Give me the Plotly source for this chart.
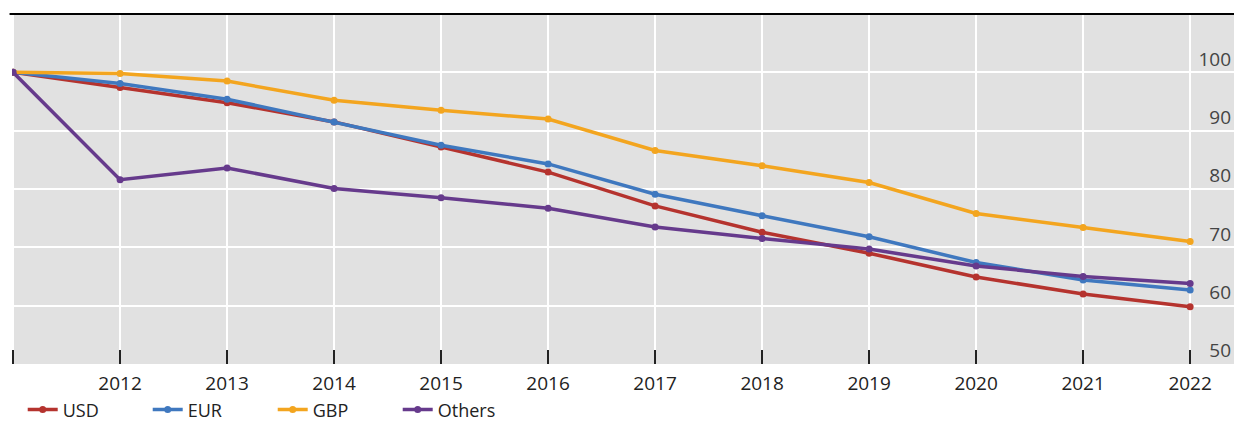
import plotly.graph_objects as go

years = list(range(2011, 2023))
usd = [100, 97.4, 94.8, 91.5, 87.2, 82.9, 77.1, 72.6, 69.0, 64.9, 62.0, 59.8]
eur = [100, 98.1, 95.4, 91.5, 87.5, 84.3, 79.1, 75.4, 71.8, 67.4, 64.4, 62.7]
gbp = [100, 99.8, 98.5, 95.2, 93.5, 92.0, 86.6, 84.0, 81.1, 75.8, 73.4, 71.0]
others = [100, 81.6, 83.6, 80.1, 78.5, 76.7, 73.5, 71.5, 69.7, 66.8, 65.0, 63.8]

names = ['USD', 'EUR', 'GBP', 'Others']
cores = ['#b5332e', '#3f78bf', '#f3a51f', '#663a8c']
x_labels = [''] + [str(a) for a in years[1:]]
y_ticks = [50, 60, 70, 80, 90, 100]

fig = go.Figure()
for nome, serie, cor in zip(names, [usd, eur, gbp, others], cores):
    fig.add_trace(go.Scatter(x=years, y=serie, name=nome, mode='lines+markers',
                             line=dict(color=cor, width=3.5),
                             marker=dict(color=cor, size=7)))

# a pagina tem margem de 8px no body, por isso 1226x415
fig.update_layout(
    width=1226, height=415,
    margin=dict(l=4, r=0, t=6, b=59, autoexpand=False),
    paper_bgcolor='white',
    plot_bgcolor='#e1e1e1',
    font=dict(family='Open Sans', size=19, color='#222222'),
    showlegend=True,
    legend=dict(orientation='h', x=0.012, xanchor='left', y=-0.131, yanchor='middle',
                xref='container', yref='paper',
                entrywidth=80, entrywidthmode='pixels',
                font=dict(size=18)),
)

fig.update_xaxes(
    range=[2010.99, 2022.41],
    tickvals=years, ticktext=x_labels,
    ticks='inside', ticklen=14, tickwidth=1.5, tickcolor='#222222',
    showgrid=True, gridcolor='white', gridwidth=2,
    zeroline=False, showline=False,
    ticklabelstandoff=6, automargin=False,
)

fig.update_yaxes(
    range=[50, 110], side='right',
    tickvals=y_ticks,
    ticklabelposition='inside top',
    ticks='',
    showgrid=True, gridcolor='white', gridwidth=2,
    zeroline=False, showline=False, automargin=False,
)

# linha preta no topo
fig.add_shape(type='line', xref='paper', yref='paper', x0=-0.002, x1=1, y0=1, y1=1,
              line=dict(color='black', width=2))

fig.write_html('out.html')
